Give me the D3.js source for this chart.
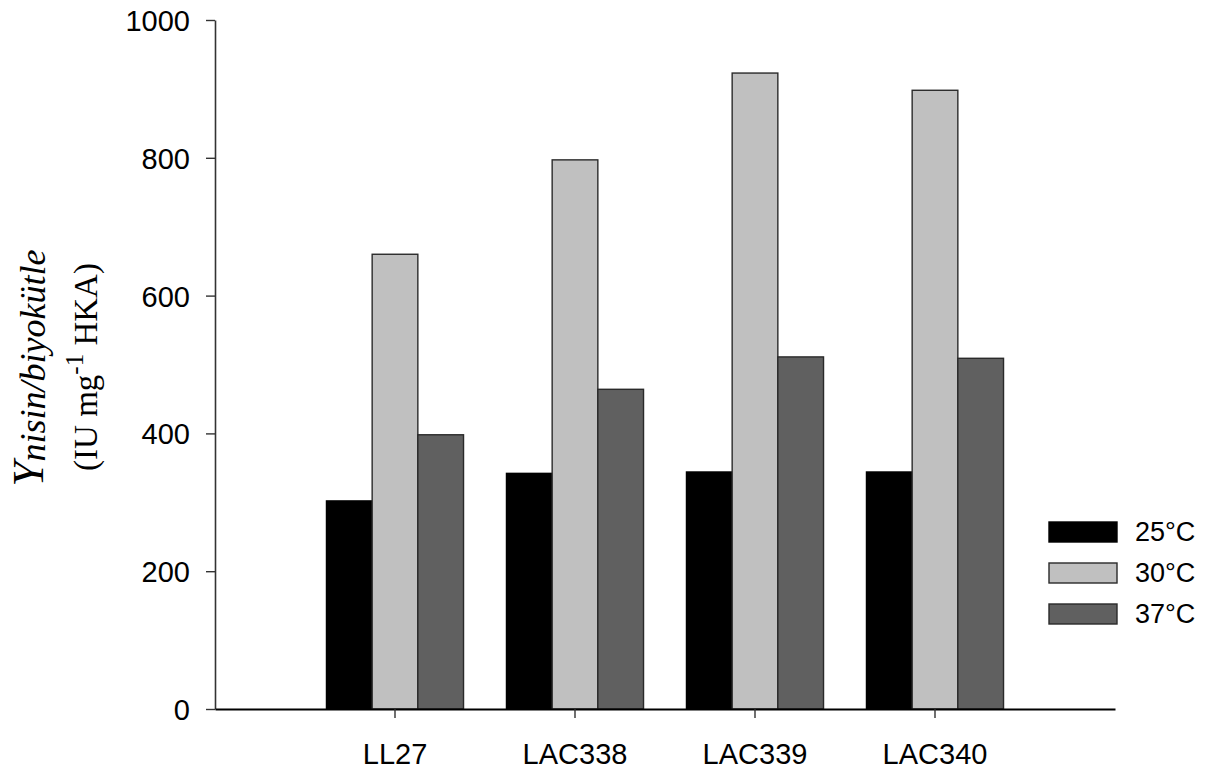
<!DOCTYPE html>
<html>
<head>
<meta charset="utf-8">
<script src="https://cdn.jsdelivr.net/npm/d3@7"></script>
<style>
  html, body { margin: 0; padding: 0; background: #fff; }
  svg { display: block; }
</style>
</head>
<body>
<svg id="chart" width="1216" height="776"></svg>
<script>
// Strains and incubation temperatures
const categories = ["LL27", "LAC338", "LAC339", "LAC340"];
const seriesNames = ["25°C", "30°C", "37°C"];
// Nisin yield per biomass (IU mg^-1 HKA) for each temperature, by strain
const values25 = [302, 342, 344, 344];
const values30 = [660, 797, 923, 898];
const values37 = [398, 464, 511, 509];
const yTicks = [0, 200, 400, 600, 800, 1000];

const seriesValues = [values25, values30, values37];
const fills = ["#000000", "#c0c0c0", "#606060"];
const strokes = ["#000000", "#2a2a2a", "#2a2a2a"];

const svg = d3.select("#chart");
const plotLeft = 215, plotRight = 1115, plotTop = 20, plotBottom = 709;

const x = d3.scaleBand().domain(categories).range([plotLeft, plotRight])
  .paddingInner(0).paddingOuter(0.5);
const xs = d3.scaleBand().domain(seriesNames).range([0, x.bandwidth()])
  .paddingInner(0).paddingOuter(0.47);
const y = d3.scaleLinear().domain([0, 1000]).range([plotBottom, plotTop]);

// Bars
const groups = svg.append("g").selectAll("g")
  .data(categories)
  .join("g")
  .attr("transform", d => `translate(${x(d)},0)`);

groups.selectAll("rect")
  .data((c, i) => seriesNames.map((s, k) => ({ s, k, v: seriesValues[k][i] })))
  .join("rect")
  .attr("x", d => xs(d.s))
  .attr("width", xs.bandwidth())
  .attr("y", d => y(d.v))
  .attr("height", d => y(0) - y(d.v))
  .attr("fill", d => fills[d.k])
  .attr("stroke", d => strokes[d.k])
  .attr("stroke-width", 1.4);

// Y axis
const yAxis = svg.append("g")
  .attr("transform", `translate(${plotLeft},0)`)
  .call(d3.axisLeft(y).tickValues(yTicks).tickFormat(d3.format("d"))
    .tickSize(9).tickSizeOuter(0).tickPadding(16));
yAxis.select(".domain").attr("stroke", "#333").attr("stroke-width", 1.6);
yAxis.selectAll(".tick line").attr("stroke", "#333").attr("stroke-width", 1.4);
yAxis.selectAll("text")
  .attr("font-family", "'Liberation Sans', Arial, sans-serif")
  .attr("font-size", 29).attr("fill", "#000").attr("dy", "0.36em");

// X axis
const xAxis = svg.append("g")
  .attr("transform", `translate(0,${plotBottom})`)
  .call(d3.axisBottom(x).tickSize(9).tickSizeOuter(0).tickPadding(25));
xAxis.select(".domain").attr("stroke", "#000").attr("stroke-width", 2.2);
xAxis.selectAll(".tick line").attr("stroke", "#333").attr("stroke-width", 1.4);
xAxis.selectAll("text")
  .attr("font-family", "'Liberation Sans', Arial, sans-serif")
  .attr("font-size", 29).attr("fill", "#000");

// Y axis title (two lines, rotated)
const title = svg.append("g");
const t1 = title.append("text")
  .attr("transform", "translate(43,368) rotate(-90)")
  .attr("text-anchor", "middle")
  .attr("font-family", "'Liberation Serif', 'Times New Roman', serif")
  .attr("font-style", "italic")
  .attr("fill", "#000");
t1.append("tspan").attr("font-size", 45).text("Y");
t1.append("tspan").attr("font-size", 36).attr("dy", 2).text("nisin/biyokütle");

const t2 = title.append("text")
  .attr("transform", "translate(97,367) rotate(-90)")
  .attr("text-anchor", "middle")
  .attr("font-family", "'Liberation Serif', 'Times New Roman', serif")
  .attr("font-size", 33)
  .attr("fill", "#000");
t2.append("tspan").text("(IU mg");
t2.append("tspan").attr("font-size", 25).attr("dy", -14).text("-1");
t2.append("tspan").attr("dy", 14).text(" HKA)");

// Legend
const legend = svg.append("g").attr("transform", "translate(1049,522)");
const items = legend.selectAll("g")
  .data(seriesNames)
  .join("g")
  .attr("transform", (d, i) => `translate(0,${i * 41})`);
items.append("rect")
  .attr("width", 68).attr("height", 20)
  .attr("fill", (d, i) => fills[i])
  .attr("stroke", (d, i) => strokes[i])
  .attr("stroke-width", 1.4);
items.append("text")
  .attr("x", 86).attr("y", 19)
  .attr("font-family", "'Liberation Sans', Arial, sans-serif")
  .attr("font-size", 27)
  .attr("fill", "#000")
  .text(d => d);
</script>
</body>
</html>
